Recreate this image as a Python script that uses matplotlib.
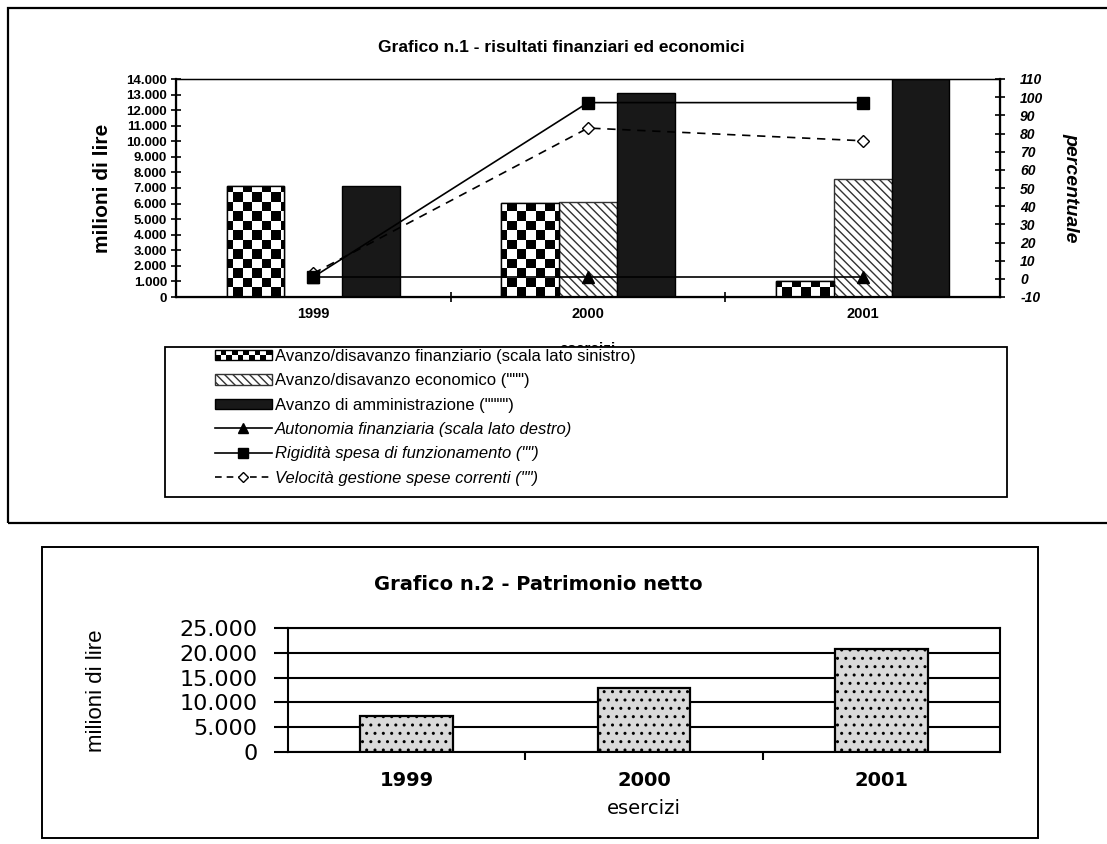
import numpy as np
import matplotlib

matplotlib.use("Agg")
import matplotlib.pyplot as plt
from matplotlib import font_manager
from matplotlib.patches import Rectangle, Patch
from matplotlib.lines import Line2D
from matplotlib.legend_handler import HandlerBase

# ---------- dati ----------
anni = ["1999", "2000", "2001"]

# Grafico 1 - scala sinistra (milioni di lire)
avanzo_finanziario = [7100, 6050, 1000]
avanzo_economico = [0, 6100, 7550]
avanzo_amministrazione = [7100, 13100, 14000]

# Grafico 1 - scala destra (percentuale)
autonomia = [1, 1, 1]
rigidita = [1, 97, 97]
velocita = [3, 83, 76]

# Grafico 2 - patrimonio netto
patrimonio = [7300, 13000, 20700]

W, H = 1107, 844


def px(x0, y0, x1, y1):
    # rettangolo in pixel (dall'alto) -> coordinate figura
    return [x0 / W, 1 - y1 / H, (x1 - x0) / W, (y1 - y0) / H]


available = {f.name for f in font_manager.fontManager.ttflist}
NARROW = "Liberation Sans Narrow" if "Liberation Sans Narrow" in available else "Liberation Sans"
ARIAL = "Liberation Sans"
VERDANA = "DejaVu Sans"


def migliaia(v):
    return f"{v:,.0f}".replace(",", ".")


class CheckerHandler(HandlerBase):
    # scacchiera per la legenda
    def create_artists(self, legend, orig_handle, xdescent, ydescent,
                       width, height, fontsize, trans):
        ncol, nrow = 10, 2
        cw, ch = width / ncol, height / nrow
        arts = [Rectangle((-xdescent, -ydescent), width, height, fc="white",
                          ec="black", lw=1, transform=trans)]
        for i in range(nrow):
            for j in range(ncol):
                if (i + j) % 2 == 0:
                    arts.append(Rectangle((-xdescent + j * cw, -ydescent + i * ch),
                                          cw, ch, fc="black", ec="none",
                                          transform=trans))
        return arts


plt.rcParams["hatch.linewidth"] = 1.0

fig = plt.figure(figsize=(W / 100, H / 100), dpi=100)
fig.patch.set_facecolor("white")

# cornici dei due grafici
fig.patches.append(Rectangle((8 / W, 1 - 523 / H), 1.05, (523 - 8) / H,
                             transform=fig.transFigure, fc="none", ec="black",
                             lw=1.6, zorder=0))
fig.patches.append(Rectangle((42 / W, 1 - 838 / H), (1038 - 42) / W, (838 - 547) / H,
                             transform=fig.transFigure, fc="none", ec="black",
                             lw=1.4, zorder=0))

# ================= Grafico 1 =================
ax1 = fig.add_axes(px(176, 79, 1000, 297))
x = np.arange(len(anni))
bw = 0.21

b_fin = ax1.bar(x - bw, avanzo_finanziario, bw, fc="white", ec="black", lw=1, zorder=2)
ax1.bar(x, avanzo_economico, bw, fc="white", ec="#333333", lw=1,
        hatch="\\\\\\\\", zorder=2)
ax1.bar(x + bw, avanzo_amministrazione, bw, fc="#181818", ec="black", lw=1, zorder=2)

# scacchiera dentro le barre del finanziario
ncol, nrow = 87, 23
ii, jj = np.indices((nrow, ncol))
checker = ((ii + jj) % 2).astype(float)
for rect in b_fin:
    im = ax1.imshow(checker, extent=(0, 1, 0, 1), transform=ax1.transAxes,
                    cmap="gray", interpolation="nearest", aspect="auto", zorder=2.5)
    im.set_clip_path(rect)
    ax1.add_patch(Rectangle(rect.get_xy(), rect.get_width(), rect.get_height(),
                            fc="none", ec="black", lw=1, zorder=2.6))

ax1.set_xlim(-0.5, 2.5)
ax1.set_ylim(0, 14000)
ax1.set_yticks(np.arange(0, 14001, 1000))
ax1.set_yticklabels([migliaia(v) for v in np.arange(0, 14001, 1000)],
                    fontfamily=ARIAL, fontweight="bold", fontsize=9.5)
ax1.set_xticks([0.5, 1.5])
ax1.set_xticklabels([])
ax1.set_xticks(x, minor=True)
ax1.set_xticklabels(anni, minor=True, fontfamily=ARIAL, fontweight="bold", fontsize=10.5)
ax1.tick_params(axis="x", which="minor", length=0, pad=7)
ax1.tick_params(axis="x", which="major", direction="inout", length=7, width=1.2)
ax1.tick_params(axis="y", direction="inout", length=7, width=1.2, pad=3)
for s in ["left", "bottom"]:
    ax1.spines[s].set_linewidth(1.6)
ax1.spines["top"].set_linewidth(1.0)
ax1.set_ylabel("milioni di lire", fontfamily=NARROW, fontweight="bold",
               fontsize=15, labelpad=10)
ax1.set_xlabel("esercizi", fontfamily=ARIAL, fontweight="bold", fontsize=11,
               labelpad=15)

ax2 = ax1.twinx()
ax2.plot(x, autonomia, color="black", lw=1.2, marker="^", ms=8, zorder=3)
ax2.plot(x, velocita, color="black", lw=1.2, ls=(0, (5, 4)), marker="D", ms=6,
         mfc="white", mec="black", zorder=3)
ax2.plot(x, rigidita, color="black", lw=1.2, marker="s", ms=8, zorder=4)
ax2.set_ylim(-10, 110)
ax2.set_yticks(np.arange(-10, 111, 10))
ax2.set_yticklabels([str(v) for v in np.arange(-10, 111, 10)], fontfamily=ARIAL,
                    fontweight="bold", fontstyle="italic", fontsize=10)
ax2.tick_params(axis="y", direction="inout", length=7, width=1.2, pad=11)
ax2.spines["right"].set_linewidth(1.6)
ax2.set_ylabel("percentuale", fontfamily=NARROW, fontweight="bold",
               fontstyle="italic", fontsize=14, rotation=270, labelpad=26)

fig.text(561 / W, 1 - 47 / H, "Grafico n.1 - risultati finanziari ed economici",
         ha="center", va="center", fontfamily=ARIAL, fontweight="bold", fontsize=12.5)

# legenda con il suo riquadro (copre in parte "esercizi")
fig.patches.append(Rectangle((165 / W, 1 - 497 / H), (1007 - 165) / W, (497 - 347) / H,
                             transform=fig.transFigure, fc="white", ec="black",
                             lw=1.3, zorder=1))
h_fin = Patch(fc="white", ec="black")
handles = [
    h_fin,
    Patch(fc="white", ec="#333333", hatch="\\\\\\\\"),
    Patch(fc="#181818", ec="black"),
    Line2D([], [], color="black", lw=1.2, marker="^", ms=7),
    Line2D([], [], color="black", lw=1.2, marker="s", ms=7),
    Line2D([], [], color="black", lw=1.2, ls=(0, (4, 3)), marker="D", ms=5,
           mfc="white"),
]
labels = [
    "Avanzo/disavanzo finanziario (scala lato sinistro)",
    "Avanzo/disavanzo economico (\"\"\")",
    "Avanzo di amministrazione (\"\"\"\")",
    "Autonomia finanziaria (scala lato destro)",
    "Rigidità spesa di funzionamento (\"\")",
    "Velocità gestione spese correnti (\"\")",
]
leg = fig.legend(handles, labels, handler_map={h_fin: CheckerHandler()},
                 loc="upper left", bbox_to_anchor=(215 / W, 1 - 349 / H),
                 frameon=False, prop={"family": ARIAL, "size": 12},
                 handlelength=3.4, handleheight=0.6, handletextpad=0.2,
                 labelspacing=0.56, borderpad=0, borderaxespad=0)
leg.set_zorder(5)
for t in leg.get_texts()[3:]:
    t.set_fontstyle("italic")

# ================= Grafico 2 =================
ax3 = fig.add_axes(px(288, 628, 1000, 752))
ax3.bar(x, patrimonio, 0.39, fc="#dadada", ec="black", lw=1.6, hatch="..",
        zorder=3)
ax3.set_xlim(-0.5, 2.5)
ax3.set_ylim(0, 25000)
ax3.set_yticks(np.arange(0, 25001, 5000))
ax3.set_yticklabels([migliaia(v) for v in np.arange(0, 25001, 5000)],
                    fontfamily=VERDANA, fontsize=16)
ax3.grid(axis="y", color="black", lw=1.5, zorder=0)
ax3.set_axisbelow(True)
ax3.set_xticks([0.5, 1.5])
ax3.set_xticklabels([])
ax3.set_xticks(x, minor=True)
ax3.set_xticklabels(anni, minor=True, fontfamily=VERDANA, fontweight="bold", fontsize=14)
ax3.tick_params(axis="x", which="minor", length=0, pad=14)
ax3.tick_params(axis="x", which="major", direction="out", length=6, width=1.5)
ax3.tick_params(axis="y", direction="out", length=10, width=1.5, pad=12)
for s in ax3.spines.values():
    s.set_linewidth(1.5)
ax3.set_ylabel("milioni di lire", fontfamily=NARROW, fontsize=16)
ax3.yaxis.set_label_coords((107 - 288) / 712, 0.49)
ax3.set_xlabel("esercizi", fontfamily=VERDANA, fontsize=14, labelpad=6)

fig.text(538 / W, 1 - 584 / H, "Grafico n.2 - Patrimonio netto",
         ha="center", va="center", fontfamily=VERDANA, fontweight="bold", fontsize=14)

fig.savefig("out.png", dpi=100, facecolor="white")
